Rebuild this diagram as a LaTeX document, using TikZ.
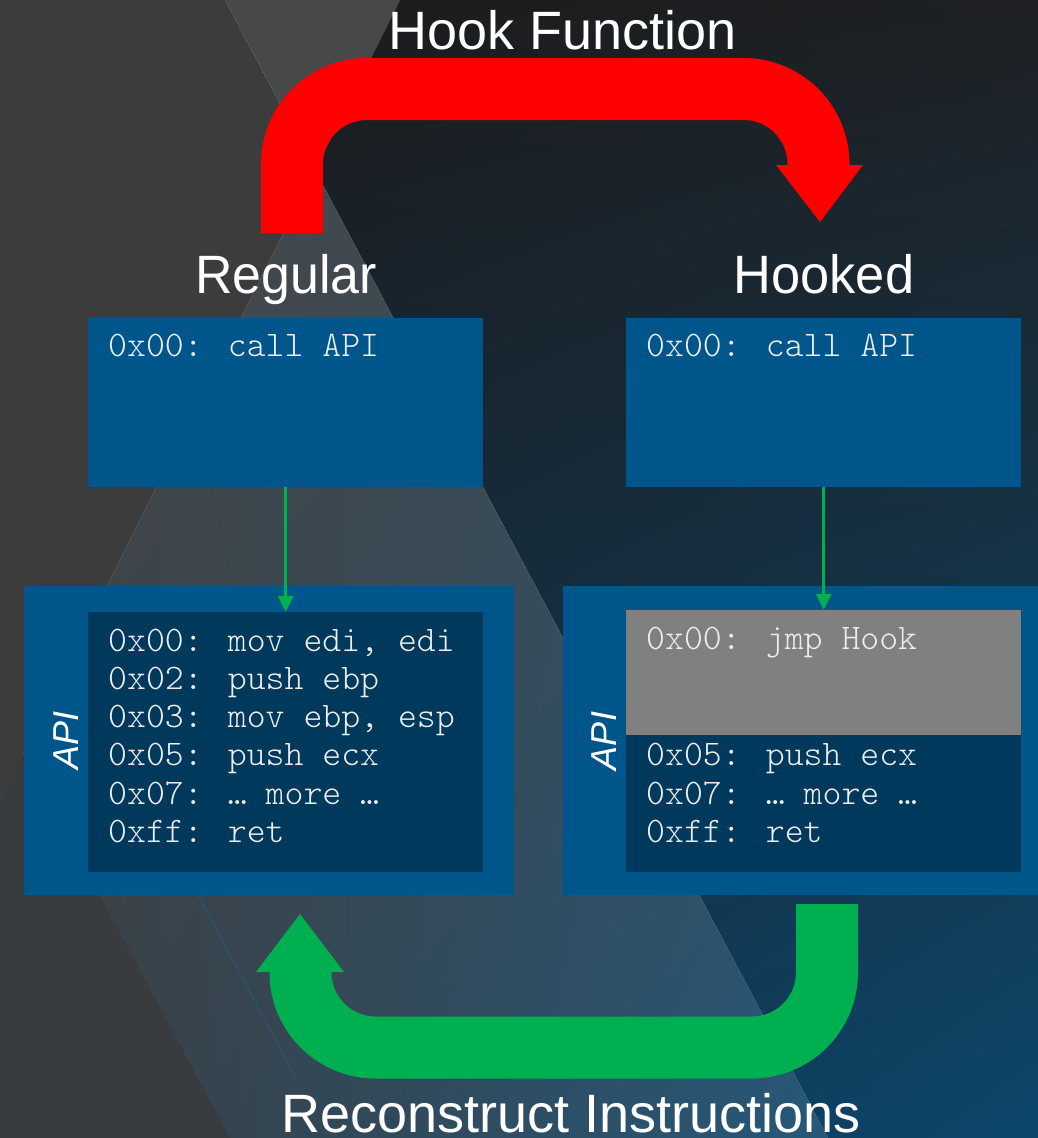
\documentclass[tikz,border=0pt]{standalone}
\usepackage{fontspec}
\setmainfont{Liberation Sans}
\newfontfamily\codefont{lmmonolt10-regular.otf}
\usetikzlibrary{arrows.meta,shadings}

\definecolor{panelblue}{RGB}{0,85,138}
\definecolor{paneldark}{RGB}{0,57,91}
\definecolor{patchgray}{RGB}{128,128,128}
\definecolor{hookred}{RGB}{255,0,0}
\definecolor{fixgreen}{RGB}{0,176,80}
\definecolor{codefg}{RGB}{238,238,238}
\definecolor{bgleft}{RGB}{60,60,60}
\definecolor{bgtop}{RGB}{72,72,72}
\definecolor{bgcorner}{RGB}{57,60,63}
\definecolor{faint}{RGB}{40,88,120}
% dark facet corners
\definecolor{dkUL}{RGB}{26,26,26}
\definecolor{dkUR}{RGB}{30,32,35}
\definecolor{dkLL}{RGB}{18,46,70}
\definecolor{dkLR}{RGB}{13,70,106}
% steel facet corners
\definecolor{stUL}{RGB}{72,72,72}
\definecolor{stUR}{RGB}{60,74,85}
\definecolor{stLL}{RGB}{58,61,64}
\definecolor{stLR}{RGB}{32,95,136}

\begin{document}
\begin{tikzpicture}[x=1pt,y=-1pt,
  panel/.style={fill=panelblue, draw=none, inner sep=0pt, anchor=north west},
  codearea/.style={fill=paneldark, draw=none, inner sep=0pt, anchor=north west},
  patcharea/.style={fill=patchgray, draw=none, inner sep=0pt, anchor=north west},
  codeline/.style={anchor=base west, inner sep=0pt, text=codefg,
    font=\codefont\fontsize{36}{40}\selectfont},
  heading/.style={anchor=base, inner sep=0pt, text=white,
    font=\fontsize{54}{60}\selectfont},
  apilabel/.style={rotate=90, inner sep=0pt, text=white,
    font=\itshape\fontsize{36}{40}\selectfont},
  bigflow/.style={line width=62pt, rounded corners=75pt},
  callflow/.style={draw=fixgreen, line width=3pt, -{Triangle[width=15pt,length=16pt]}}
]
\useasboundingbox (0,0) rectangle (1038,1138);

% faceted background
\fill[bgleft] (0,0) -- (225,0) -- (315,170) -- (0,800) -- cycle;
\fill[bgtop] (225,0) -- (400,0) -- (315,170) -- cycle;
\begin{scope}
  \clip (400,0) -- (1038,0) -- (1038,1138) -- (828,1138) -- (315,170) -- cycle;
  \shade[upper left=dkUL, upper right=dkUR, lower left=dkLL, lower right=dkLR]
    (0,0) rectangle (1038,1138);
\end{scope}
\begin{scope}
  \clip (315,170) -- (828,1138) -- (0,1138) -- (0,800) -- cycle;
  \shade[upper left=stUL, upper right=stUR, lower left=stLL, lower right=stLR]
    (0,0) rectangle (1038,1138);
\end{scope}
\fill[bgcorner] (0,800) -- (23,753) -- (230,1138) -- (0,1138) -- cycle;
\draw[faint, line width=0.8pt] (198,895) -- (296,1078);

% code panels
\node[panel, minimum width=395pt, minimum height=169pt] (callL) at (88,318) {};
\node[panel, minimum width=395pt, minimum height=169pt] (callR) at (626,318) {};
\node[panel, minimum width=490pt, minimum height=309pt] (apiL) at (24,586) {};
\node[panel, minimum width=475pt, minimum height=309pt] (apiR) at (563,586) {};
\node[codearea, minimum width=395pt, minimum height=260pt] (bodyL) at (88,612) {};
\node[codearea, minimum width=395pt, minimum height=137pt] (bodyR) at (626,735) {};
\node[patcharea, minimum width=395pt, minimum height=125pt] (patchR) at (626,610) {};

% calls into the API
\draw[callflow] (callL.south) -- (bodyL.north);
\draw[callflow] (callR.south) -- (patchR.north);

% instructions
\node[codeline] (cl) at (108,356) {0x00: call API};
\node[codeline] (cr) at (646,356) {0x00: call API};
\node[codeline] (l1) at (108,651) {0x00: mov edi, edi};
\node[codeline] (l2) at (108,689) {0x02: push ebp};
\node[codeline] (l3) at (108,727) {0x03: mov ebp, esp};
\node[codeline] (l4) at (108,765) {0x05: push ecx};
\node[codeline] (l5) at (108,804) {0x07: … more …};
\node[codeline] (l6) at (108,842) {0xff: ret};
\node[codeline] (r1) at (646,649) {0x00: jmp Hook};
\node[codeline] (r4) at (646,765) {0x05: push ecx};
\node[codeline] (r5) at (646,804) {0x07: … more …};
\node[codeline] (r6) at (646,842) {0xff: ret};

\node[apilabel] (apiLtag) at (66,740) {API};
\node[apilabel] (apiRtag) at (604,741) {API};

% hook arrow
\coordinate (hookStart) at (292,233);
\coordinate (hookEnd) at (818.5,165);
\draw[hookred, bigflow] (hookStart) -- (292,89) -- (818.5,89) -- (hookEnd);
\fill[hookred] (776,165) -- (863,165) -- (820,222) -- cycle;

% reconstruction arrow
\coordinate (fixStart) at (827,904);
\coordinate (fixEnd) at (300.5,972);
\draw[fixgreen, bigflow] (fixStart) -- (827,1047.5) -- (300.5,1047.5) -- (fixEnd);
\fill[fixgreen] (256,972) -- (344,972) -- (300,914) -- cycle;

% headings
\node[heading] (hookT) at (562.5,49) {Hook Function};
\node[heading, xscale=0.96] (regT) at (286,293) {Regular};
\node[heading, xscale=0.97] (hookedT) at (824,293) {Hooked};
\node[heading] (fixT) at (571,1132) {Reconstruct Instructions};
\end{tikzpicture}
\end{document}
